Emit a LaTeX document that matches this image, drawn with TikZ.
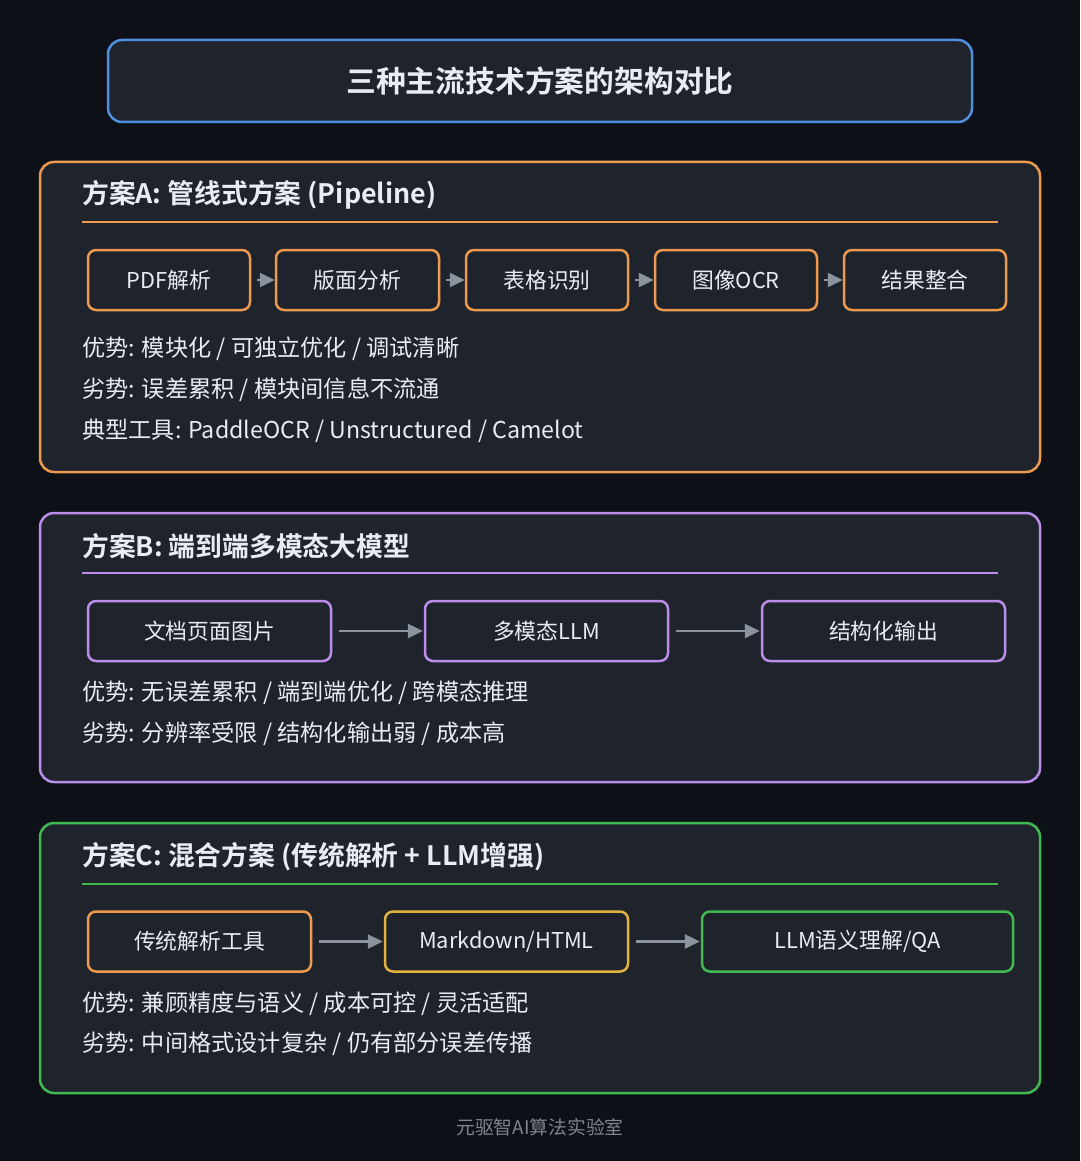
\documentclass[tikz,border=0pt]{standalone}
\usepackage{fontspec}
\setmainfont{Noto Sans CJK SC}[BoldFont={Noto Sans CJK SC Bold}]
\usetikzlibrary{arrows.meta}
\definecolor{bg}{HTML}{0D1117}
\definecolor{boxfill}{HTML}{1F242C}
\definecolor{txt}{HTML}{E6EDF3}
\definecolor{cblue}{HTML}{4F8FDF}
\definecolor{corange}{HTML}{EE9A4E}
\definecolor{cpurple}{HTML}{BC8CEB}
\definecolor{cgreen}{HTML}{3FB950}
\definecolor{cyellow}{HTML}{E3B341}
\definecolor{agray}{HTML}{8B949E}
\definecolor{fgray}{HTML}{7D8590}
\tikzset{
  secbox/.style={draw=#1, line width=2.5pt, fill=boxfill, rounded corners=14pt},
  stepbox/.style={draw=#1, line width=2.5pt, fill=boxfill, rounded corners=8pt, minimum height=60pt, inner sep=0pt, text=txt, font=\fontsize{21.8}{26}\selectfont},
  sectitle/.style={anchor=west, inner sep=0pt, text=txt, font=\bfseries\fontsize{26.8}{31}\selectfont},
  bodytext/.style={anchor=west, inner sep=0pt, text=txt, font=\fontsize{23.2}{27}\selectfont},
  divider/.style={draw=#1, line width=1.2pt},
  conn/.style={draw=agray, line width=2.5pt, -{Triangle[length=15pt,width=14pt]}},
}
\begin{document}
\begin{tikzpicture}[x=1pt,y=-1pt]
\fill[bg] (0,0) rectangle (1080,1161);
\useasboundingbox (0,0) rectangle (1080,1161);
% title
\draw[secbox=cblue] (108,40) rectangle (972,122);
\node[text=txt, font=\bfseries\fontsize{29.8}{34}\selectfont, inner sep=0pt] (title) at (540,81) {三种主流技术方案的架构对比};
% Section A
\draw[secbox=corange] (40,162) rectangle (1040,472);
\node[sectitle] (ta) at (82,195) {方案A: 管线式方案 (Pipeline)};
\draw[divider=corange] (82,222) -- (998,222);
\node[stepbox=corange, minimum width=162pt] (a1) at (169,280) {PDF解析};
\node[stepbox=corange, minimum width=163pt] (a2) at (357.5,280) {版面分析};
\node[stepbox=corange, minimum width=162pt] (a3) at (547,280) {表格识别};
\node[stepbox=corange, minimum width=162pt] (a4) at (736,280) {图像OCR};
\node[stepbox=corange, minimum width=162pt] (a5) at (925,280) {结果整合};
\draw[conn, shorten <=6pt] (a1) -- (a2);
\draw[conn, shorten <=6pt] (a2) -- (a3);
\draw[conn, shorten <=6pt] (a3) -- (a4);
\draw[conn, shorten <=6pt] (a4) -- (a5);
\node[bodytext] (a6) at (82,349) {优势: 模块化 / 可独立优化 / 调试清晰};
\node[bodytext] (a7) at (82,390) {劣势: 误差累积 / 模块间信息不流通};
\node[bodytext] (a8) at (82,431) {典型工具: PaddleOCR / Unstructured / Camelot};
% Section B
\draw[secbox=cpurple] (40,513) rectangle (1040,782);
\node[sectitle] (tb) at (82,546) {方案B: 端到端多模态大模型};
\draw[divider=cpurple] (82,573) -- (998,573);
\node[stepbox=cpurple, minimum width=243pt] (b1) at (209.5,631) {文档页面图片};
\node[stepbox=cpurple, minimum width=243pt] (b2) at (546.5,631) {多模态LLM};
\node[stepbox=cpurple, minimum width=243pt] (b3) at (883.5,631) {结构化输出};
\draw[conn, shorten <=7pt, shorten >=1pt] (b1) -- (b2);
\draw[conn, shorten <=7pt, shorten >=1pt] (b2) -- (b3);
\node[bodytext] (b4) at (82,693) {优势: 无误差累积 / 端到端优化 / 跨模态推理};
\node[bodytext] (b5) at (82,734) {劣势: 分辨率受限 / 结构化输出弱 / 成本高};
% Section C
\draw[secbox=cgreen] (40,823) rectangle (1040,1093);
\node[sectitle] (tc) at (82,857) {方案C: 混合方案 (传统解析 + LLM增强)};
\draw[divider=cgreen] (82,884) -- (998,884);
\node[stepbox=corange, minimum width=223pt] (c1) at (199.5,941.5) {传统解析工具};
\node[stepbox=cyellow, minimum width=243pt] (c2) at (506.5,941.5) {Markdown/HTML};
\node[stepbox=cgreen, minimum width=311pt] (c3) at (857.5,941.5) {LLM语义理解/QA};
\draw[conn, shorten <=7pt, shorten >=1pt] (c1) -- (c2);
\draw[conn, shorten <=7pt, shorten >=1pt] (c2) -- (c3);
\node[bodytext] (c4) at (82,1004) {优势: 兼顾精度与语义 / 成本可控 / 灵活适配};
\node[bodytext] (c5) at (82,1044) {劣势: 中间格式设计复杂 / 仍有部分误差传播};
% footer
\node[text=fgray, font=\fontsize{18.8}{22}\selectfont, inner sep=0pt] (foot) at (540,1127) {元驱智AI算法实验室};
\end{tikzpicture}
\end{document}
